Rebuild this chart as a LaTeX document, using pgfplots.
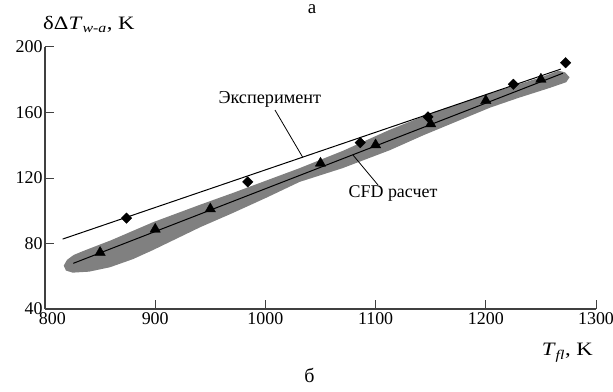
\documentclass[border=0pt]{standalone}
\usepackage{fontspec}
\setmainfont{Liberation Serif}
\newfontfamily\widefont{Liberation Serif}[FakeStretch=1.2]
\usepackage{pgfplots}
\pgfplotsset{compat=1.18}
\definecolor{band}{gray}{0.5}
\definecolor{axc}{gray}{0.25}
\begin{document}
\begin{tikzpicture}
\begin{axis}[
  scale only axis, width=551bp, height=262bp,
  xmin=800, xmax=1300, ymin=40, ymax=200,
  axis lines*=left,
  axis line style={line width=1.3bp, axc},
  xtick={800,900,...,1300}, ytick={40,80,...,200},
  xticklabels={\makebox[0pt][l]{\kern-6bp 800},900,1000,1100,1200,1300},
  tick align=inside, major tick length=9bp,
  tick style={line width=1bp, axc},
  ticklabel style={font=\fontsize{18}{20}\selectfont},
  yticklabel style={xshift=1bp},
  /pgf/number format/assume math mode=true,
  /pgf/number format/1000 sep={},
  clip=false,
]
\addplot[fill=band, draw=none] coordinates {
 (817,66.5) (820,70) (826,73) (835,75.5) (860,82) (898,93) (940,103.5) (971,111)
 (1031,126) (1070,136.5) (1113,149.5) (1150,159.5) (1200,171) (1250,181.5)
 (1266,185.5) (1272,184.5) (1276,181.5)
 (1273,178.5) (1258,175) (1230,169) (1204,163) (1143,146) (1113,137) (1070,126)
 (1031,117.6) (1001,108) (970,98.5) (941,90) (898,76) (880,70.5) (859,65.5)
 (840,62.8) (825,62.2) (819,63.5)
} -- cycle;
\addplot[black, line width=1bp] coordinates {(816,82.7) (1268,186.5)};
\addplot[black, line width=1bp] coordinates {(825.7,67.9) (1270,184)};
\addplot[only marks, mark=triangle*, mark size=6bp, black] coordinates {
 (850,74.5) (900,88.7) (950,101.1) (1050,129) (1100,140.2) (1150,153) (1200,167.2) (1250,180.3)
};
\addplot[only marks, mark=square*, mark size=3.7bp, mark options={rotate=45}, black] coordinates {
 (874,95.5) (984,117.6) (1086,141.6) (1147.5,157.3) (1225,177.2) (1272.5,190.4)
};
\addplot[black, line width=0.8bp] coordinates {(1008.7,161.5) (1034,132.5)};
\addplot[black, line width=0.8bp] coordinates {(1079.5,134) (1102.2,115.7)};
\node[font=\fontsize{18.3}{20}\selectfont] at (axis cs:1004,168.2) {Эксперимент};
\node[font=\fontsize{18}{20}\selectfont] at (axis cs:1115.8,110.8) {CFD расчет};
\node[anchor=base west, inner sep=0pt, font=\widefont\fontsize{19}{21}\selectfont] at (axis cs:798.2,210.4) {δΔ\textit{T}\textsubscript{\textit{w-a}}, K};
\node[anchor=base east, inner sep=0pt, font=\widefont\fontsize{19}{21}\selectfont] at (axis cs:1297.3,11.3) {\textit{T}\textsubscript{\textit{fl}}, K};
\node[anchor=base, inner sep=0pt, font=\fontsize{19}{21}\selectfont] at (axis cs:1042.3,220.5) {а};
\node[anchor=base, inner sep=0pt, font=\fontsize{20}{22}\selectfont] at (axis cs:1040,-4.6) {б};
\coordinate (O) at (axis cs:800,40);
\end{axis}
\pgfresetboundingbox
\path[use as bounding box] (O) ++(-45bp,-83bp) rectangle ++(613bp,392bp);
\end{tikzpicture}
\end{document}
